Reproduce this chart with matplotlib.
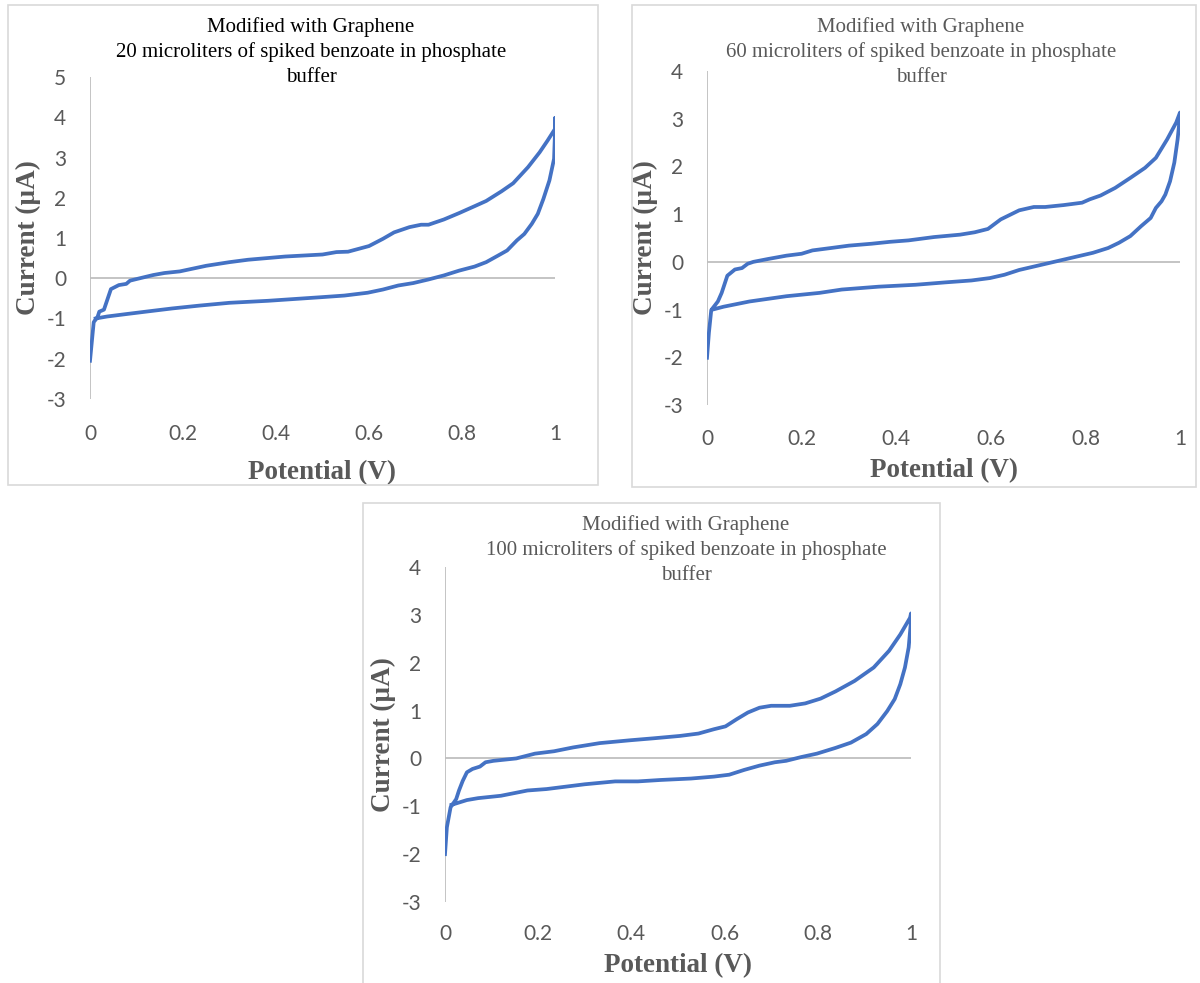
import numpy as np
import matplotlib
matplotlib.use("Agg")
import matplotlib.pyplot as plt
from matplotlib.patches import Rectangle

plt.rcParams["axes.unicode_minus"] = False

# ---- data (potential V, current uA) ----
# loop goes: start at 0 V, forward scan to 1 V (upper branch), back to ~0 V (lower branch)
pot_20 = [0.0, 0.008, 0.016, 0.02, 0.03, 0.045, 0.062, 0.078, 0.086, 0.1, 0.136, 0.16, 0.193,
          0.25, 0.3, 0.34, 0.42, 0.5, 0.53, 0.555, 0.6, 0.63, 0.654, 0.687, 0.712, 0.728, 0.761,
          0.794, 0.827, 0.852, 0.885, 0.91, 0.942, 0.967, 0.984, 1.0, 1.0,
          1.0, 0.998, 0.988, 0.975, 0.963, 0.95, 0.934, 0.918, 0.897, 0.877, 0.852, 0.827, 0.794,
          0.761, 0.728, 0.695, 0.663, 0.63, 0.597, 0.547, 0.498, 0.383, 0.3, 0.235, 0.177, 0.12,
          0.078, 0.037, 0.012]
cur_20 = [-2.05, -1.09, -0.97, -0.83, -0.78, -0.27, -0.17, -0.14, -0.06, -0.02, 0.08, 0.13, 0.17,
          0.31, 0.4, 0.46, 0.54, 0.59, 0.65, 0.66, 0.8, 0.98, 1.14, 1.27, 1.33, 1.33, 1.46,
          1.62, 1.79, 1.92, 2.16, 2.36, 2.76, 3.13, 3.42, 3.71, 3.98,
          3.63, 2.97, 2.43, 1.97, 1.6, 1.35, 1.1, 0.94, 0.69, 0.56, 0.4, 0.29, 0.19,
          0.07, -0.03, -0.12, -0.18, -0.28, -0.36, -0.43, -0.47, -0.56, -0.61, -0.68, -0.75, -0.83,
          -0.89, -0.95, -1.0]

pot_60 = [0.0, 0.004, 0.009, 0.023, 0.031, 0.043, 0.059, 0.074, 0.086, 0.098, 0.129, 0.168, 0.2,
          0.223, 0.262, 0.3, 0.348, 0.387, 0.426, 0.48, 0.535, 0.566, 0.594, 0.621, 0.66, 0.691,
          0.715, 0.754, 0.793, 0.809, 0.832, 0.863, 0.895, 0.926, 0.949, 0.973, 0.992, 1.0,
          1.0, 0.995, 0.988, 0.979, 0.969, 0.961, 0.949, 0.938, 0.918, 0.895, 0.871, 0.848, 0.816,
          0.777, 0.738, 0.699, 0.66, 0.629, 0.598, 0.559, 0.504, 0.441, 0.363, 0.285, 0.238, 0.168,
          0.09, 0.035, 0.012]
cur_60 = [-2.01, -1.49, -1.01, -0.83, -0.65, -0.29, -0.16, -0.13, -0.04, 0.0, 0.06, 0.13, 0.17,
          0.24, 0.29, 0.34, 0.38, 0.42, 0.45, 0.52, 0.57, 0.62, 0.69, 0.89, 1.08, 1.15,
          1.15, 1.19, 1.24, 1.31, 1.39, 1.55, 1.76, 1.97, 2.18, 2.57, 2.92, 3.13,
          3.06, 2.57, 2.08, 1.69, 1.41, 1.27, 1.13, 0.92, 0.75, 0.54, 0.4, 0.29, 0.19,
          0.1, 0.01, -0.08, -0.17, -0.27, -0.34, -0.39, -0.43, -0.48, -0.52, -0.58, -0.65, -0.72,
          -0.83, -0.94, -1.0]

pot_100 = [0.0, 0.004, 0.012, 0.024, 0.03, 0.038, 0.047, 0.059, 0.075, 0.087, 0.104, 0.153, 0.193,
           0.234, 0.275, 0.332, 0.398, 0.447, 0.504, 0.544, 0.577, 0.602, 0.626, 0.65, 0.675, 0.7,
           0.74, 0.773, 0.806, 0.838, 0.879, 0.92, 0.953, 0.977, 0.998, 1.0,
           1.0, 0.995, 0.987, 0.977, 0.965, 0.949, 0.928, 0.904, 0.871, 0.838, 0.798, 0.765, 0.732,
           0.708, 0.675, 0.642, 0.61, 0.577, 0.528, 0.463, 0.414, 0.365, 0.3, 0.218, 0.177, 0.12,
           0.071, 0.047, 0.014]
cur_100 = [-2.0, -1.44, -1.02, -0.85, -0.67, -0.47, -0.29, -0.22, -0.17, -0.08, -0.05, 0.0, 0.1,
           0.15, 0.23, 0.32, 0.38, 0.42, 0.47, 0.52, 0.61, 0.67, 0.82, 0.96, 1.06, 1.1,
           1.1, 1.15, 1.25, 1.4, 1.62, 1.9, 2.25, 2.59, 2.94, 3.03,
           2.87, 2.32, 1.9, 1.55, 1.24, 0.99, 0.72, 0.51, 0.33, 0.22, 0.1, 0.03, -0.05,
           -0.08, -0.15, -0.24, -0.34, -0.38, -0.42, -0.45, -0.48, -0.48, -0.54, -0.64, -0.67, -0.78,
           -0.83, -0.87, -0.97]

x_ticks = [0, 0.2, 0.4, 0.6, 0.8, 1]
x_labels = ["0", "0.2", "0.4", "0.6", "0.8", "1"]

W, H = 1200, 983
BLUE = "#4472C4"
GRAY = "#595959"
AXGRAY = "#BFBFBF"

fig = plt.figure(figsize=(W / 100, H / 100), dpi=100)
fig.patch.set_facecolor("white")


def px_rect(x0, y0, x1, y1):
    # pixel box (top-left origin) -> figure fraction [left, bottom, width, height]
    return [x0 / W, 1 - y1 / H, (x1 - x0) / W, (y1 - y0) / H]


def panel(frame, axbox, ylim, pot, cur, title, title_cx, title_color, xpad, tpad):
    fig.add_artist(Rectangle((frame[0], frame[1]), frame[2], frame[3],
                             transform=fig.transFigure, fill=False,
                             edgecolor="#D9D9D9", linewidth=1.2))
    ax = fig.add_axes(axbox)
    ax.plot(pot, cur, color=BLUE, linewidth=2.7, solid_joinstyle="round")
    ax.set_xlim(0, 1)
    ax.set_ylim(*ylim)
    ax.axhline(0, color=AXGRAY, linewidth=1.3, zorder=0)
    ax.axvline(0, color=AXGRAY, linewidth=1.3, zorder=0)
    for s in ax.spines.values():
        s.set_visible(False)
    ax.set_xticks(x_ticks)
    ax.set_xticklabels(x_labels)
    ax.set_yticks(range(ylim[0], ylim[1] + 1))
    ax.tick_params(length=0, labelsize=15, labelcolor=GRAY)
    ax.tick_params(axis="x", pad=tpad)
    ax.tick_params(axis="y", pad=17)
    for lab in ax.get_xticklabels() + ax.get_yticklabels():
        lab.set_fontfamily("Lato")
    ax.set_xlabel("Potential (V)", fontsize=19.5, fontweight="bold", color=GRAY,
                  fontfamily="Liberation Serif", labelpad=xpad)
    ax.set_ylabel("Current (µA)", fontsize=19.5, fontweight="bold", color=GRAY,
                  fontfamily="Liberation Serif", labelpad=4)
    ax.patch.set_alpha(0)
    # title lines
    top_px = (1 - frame[1] - frame[3]) * H
    fig.text(title_cx / W, 1 - (top_px + 12) / H, title, ha="center", va="top",
             fontsize=15, fontfamily="Liberation Serif", color=title_color,
             linespacing=1.38)
    return ax


panel(px_rect(8, 5, 598, 485), px_rect(90, 77, 555, 399), (-3, 5), pot_20, cur_20,
      "Modified with Graphene\n20 microliters of spiked benzoate in phosphate\nbuffer",
      311, "#000000", 11.5, 18)
panel(px_rect(632, 5, 1196, 487), px_rect(707, 71, 1180, 405), (-3, 4), pot_60, cur_60,
      "Modified with Graphene\n60 microliters of spiked benzoate in phosphate\nbuffer",
      921, GRAY, 6.5, 17)
panel(px_rect(363, 503, 940, 990), px_rect(445, 567, 911, 902), (-3, 4), pot_100, cur_100,
      "Modified with Graphene\n100 microliters of spiked benzoate in phosphate\nbuffer",
      686, GRAY, 6.5, 16)

fig.savefig("out.png", dpi=100, facecolor="white")
